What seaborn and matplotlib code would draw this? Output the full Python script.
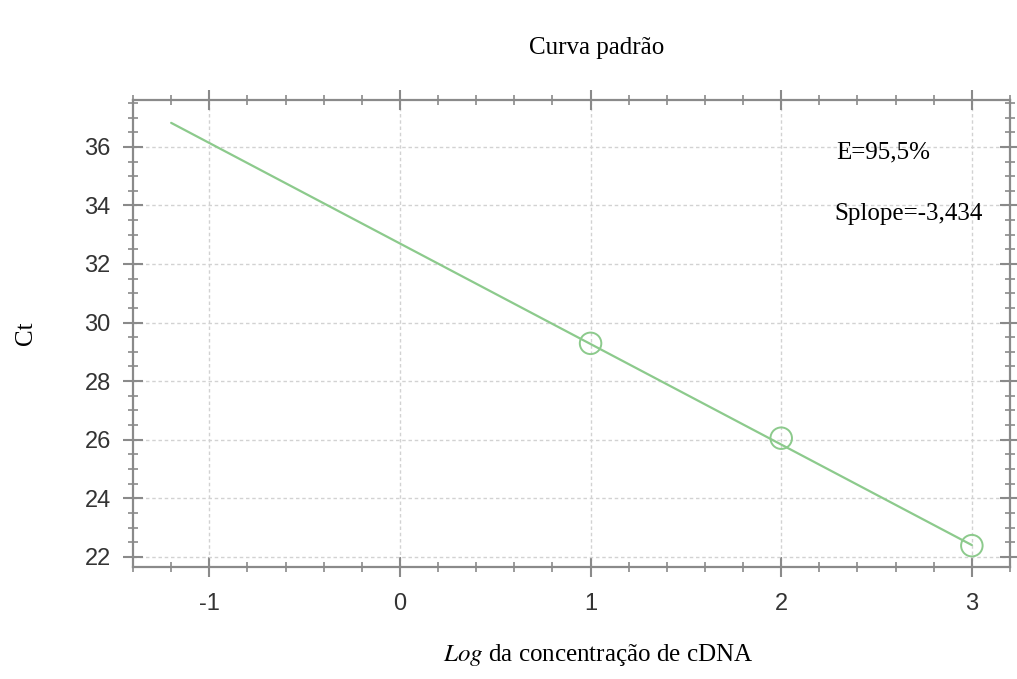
import matplotlib
matplotlib.use("Agg")
import matplotlib.pyplot as plt
from matplotlib.ticker import MultipleLocator
import seaborn as sns
import pandas as pd

# standard curve data
log_conc = [1, 2, 3]
ct_values = [29.29, 26.05, 22.38]
fit_x = [-1.2, 3.0]
fit_y = [36.82, 22.40]
efficiency_text = "E=95,5%"
slope_text = "Splope=-3,434"

green = "#8cca8c"
spine_gray = "#8a8a8a"


def main():
    sns.set_theme(style="white")
    plt.rcParams["axes.unicode_minus"] = False
    points = pd.DataFrame({"x": log_conc, "ct": ct_values})
    fit = pd.DataFrame({"x": fit_x, "ct": fit_y})

    fig = plt.figure(figsize=(10.17, 6.79), dpi=100)
    ax = fig.add_axes([0.1308, 0.1649, 0.8623, 0.6878])

    sns.lineplot(x="x", y="ct", data=fit, ax=ax, color=green, linewidth=1.6)
    sns.scatterplot(x="x", y="ct", data=points, ax=ax, marker="o", s=240,
                    facecolors="none", edgecolor=green, linewidth=1.4, zorder=3)

    ax.set_xlim(-1.4, 3.2)
    ax.set_ylim(21.65, 37.6)
    ax.xaxis.set_major_locator(MultipleLocator(1))
    ax.xaxis.set_minor_locator(MultipleLocator(0.2))
    ax.yaxis.set_major_locator(MultipleLocator(2))
    ax.yaxis.set_minor_locator(MultipleLocator(0.5))

    ax.grid(True, which="major", color="#d2d2d2", linestyle=(0, (2.5, 2)), linewidth=1.0)
    ax.set_axisbelow(True)

    for side in ["left", "right", "top", "bottom"]:
        ax.spines[side].set_visible(True)
        ax.spines[side].set_color(spine_gray)
        ax.spines[side].set_linewidth(1.6)

    ax.tick_params(which="both", direction="inout", color=spine_gray,
                   top=True, right=True, bottom=True, left=True)
    ax.tick_params(which="major", length=14, width=1.5)
    ax.tick_params(which="minor", length=7, width=1.2)
    ax.tick_params(axis="x", which="major", labelsize=17, pad=12, labelcolor="#333333")
    ax.tick_params(axis="y", which="major", labelsize=17, pad=9, labelcolor="#333333")
    for lab in ax.get_xticklabels() + ax.get_yticklabels():
        lab.set_family(["Liberation Sans", "DejaVu Sans"])

    ax.set_xlabel("")
    ax.set_ylabel("Ct", fontsize=18, family="Liberation Serif", color="black")
    ax.yaxis.set_label_coords(-0.11, 0.5)

    ax.text(2.29, 35.8, efficiency_text, fontsize=18, family="Liberation Serif",
            ha="left", va="center", color="black")
    ax.text(2.28, 33.72, slope_text, fontsize=18, family="Liberation Serif",
            ha="left", va="center", color="black")

    fig.text(597 / 1017, 1 - 48 / 679, "Curva padrão", fontsize=18,
             family="Liberation Serif", ha="center", va="center", color="black")
    fig.text(598 / 1017, 1 - 655 / 679, r"$\mathit{Log}$ da concentração de cDNA",
             fontsize=18, family="Liberation Serif", ha="center", va="center",
             color="black", math_fontfamily="stix")

    fig.savefig("out.png", dpi=100)


if __name__ == "__main__":
    main()
